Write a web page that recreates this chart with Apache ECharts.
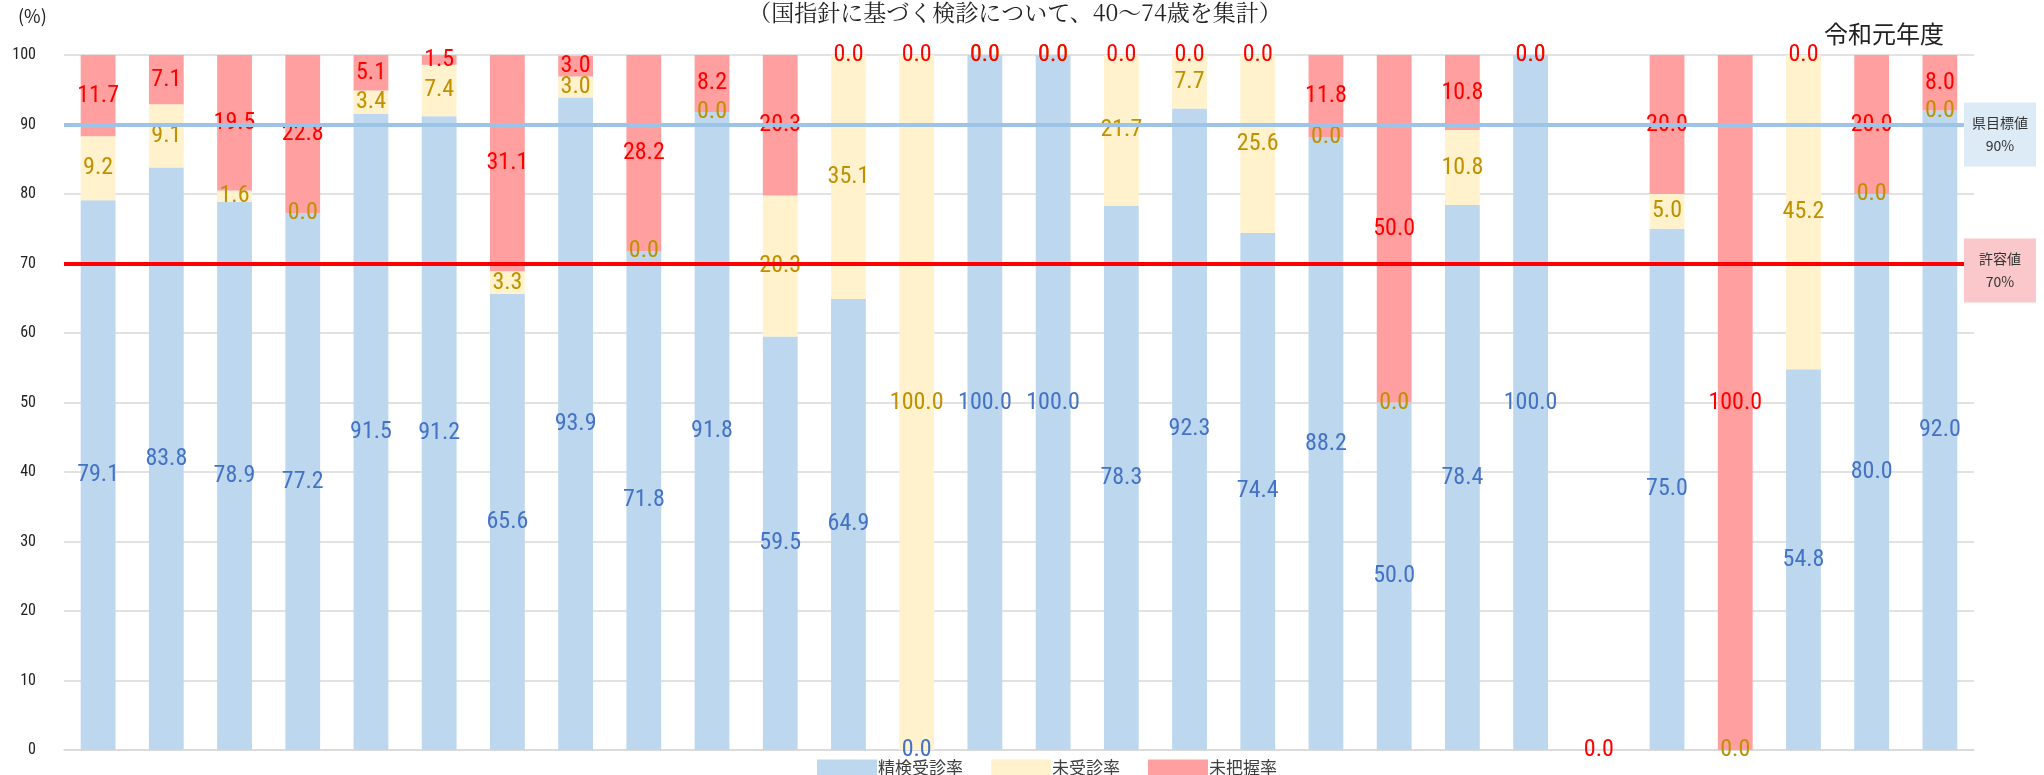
<!DOCTYPE html>
<html>
<head>
<meta charset="utf-8">
<script src="https://cdn.jsdelivr.net/npm/echarts@6/dist/echarts.min.js"></script>
<style>
  html, body { margin: 0; padding: 0; background: #fff; }
  #chart { width: 2044px; height: 775px; }
</style>
</head>
<body>
<div id="chart"></div>
<script>
const categories = ['1', '2', '3', '4', '5', '6', '7', '8', '9', '10', '11', '12', '13', '14',
  '15', '16', '17', '18', '19', '20', '21', '22', '23', '24', '25', '26', '27', '28'];

// 精検受診率
const examined = [79.1, 83.8, 78.9, 77.2, 91.5, 91.2, 65.6, 93.9, 71.8, 91.8, 59.5, 64.9, 0.0, 100.0,
  100.0, 78.3, 92.3, 74.4, 88.2, 50.0, 78.4, 100.0, '-', 75.0, '-', 54.8, 80.0, 92.0];
// 未受診率
const notExamined = [9.2, 9.1, 1.6, 0.0, 3.4, 7.4, 3.3, 3.0, 0.0, 0.0, 20.3, 35.1, 100.0, 0.0,
  0.0, 21.7, 7.7, 25.6, 0.0, 0.0, 10.8, 0.0, '-', 5.0, 0.0, 45.2, 0.0, 0.0];
// 未把握率
const unknown = [11.7, 7.1, 19.5, 22.8, 5.1, 1.5, 31.1, 3.0, 28.2, 8.2, 20.3, 0.0, 0.0, 0.0,
  0.0, 0.0, 0.0, 0.0, 11.8, 50.0, 10.8, 0.0, 0.0, 20.0, 100.0, 0.0, 20.0, 8.0];

const targetLine = 90;
const allowLine = 70;
const yTicks = { min: 0, max: 100, interval: 10 };

const numFont = "'Liberation Sans Narrow', 'Roboto Condensed', 'Noto Sans', sans-serif";
const jpFont = "'Noto Sans CJK JP', sans-serif";

const fmt = (p) => (typeof p.value === 'number' ? p.value.toFixed(1) : '');

const barLabel = (color) => ({
  show: true,
  position: 'inside',
  color,
  fontFamily: numFont,
  fontSize: 24,
  formatter: fmt,
});

// boxed label at the right end of a reference line
const refLabel = (text, bg, dy) => ({
  show: true,
  position: 'end',
  distance: 26,
  offset: [0, dy],
  formatter: text,
  backgroundColor: bg,
  color: '#333',
  fontFamily: jpFont,
  fontSize: 14,
  lineHeight: 23,
  width: 56,
  padding: [9, 8, 9, 8],
  align: 'center',
});

const chart = echarts.init(document.getElementById('chart'));

const option = {
  animation: false,
  title: [
    {
      text: '（国指針に基づく検診について、40～74歳を集計）',
      left: 1010,
      textAlign: 'center',
      top: -4,
      textStyle: { fontFamily: "'Noto Serif CJK JP', " + jpFont, fontSize: 23, fontWeight: 'normal', color: '#222' },
    },
    {
      text: '令和元年度',
      right: 95,
      top: 17,
      textStyle: { fontFamily: jpFont, fontSize: 24, fontWeight: 'normal', color: '#222' },
    },
    {
      text: '(%)',
      left: 13,
      top: 2,
      textStyle: { fontFamily: jpFont, fontSize: 18, fontWeight: 'normal', color: '#222' },
    },
  ],
  legend: {
    left: 812,
    top: 754,
    itemWidth: 60,
    itemHeight: 16,
    itemGap: 28,
    icon: 'rect',
    textStyle: { fontFamily: jpFont, fontSize: 17, color: '#404040', padding: [0, 0, 0, -4] },
    data: ['精検受診率', '未受診率', '未把握率'],
  },
  grid: { left: 64, right: 70, top: 55, bottom: 25 },
  xAxis: {
    type: 'category',
    data: categories,
    axisLine: { lineStyle: { color: '#D9D9D9', width: 1.5 } },
    axisTick: { show: false },
    axisLabel: { show: false },
  },
  yAxis: {
    type: 'value',
    min: yTicks.min,
    max: yTicks.max,
    interval: yTicks.interval,
    axisLine: { show: false },
    axisTick: { show: false },
    axisLabel: { fontFamily: numFont, fontSize: 16, color: '#222', margin: 28 },
    splitLine: { lineStyle: { color: '#D9D9D9', width: 1.5 } },
  },
  series: [
    {
      name: '精検受診率',
      type: 'bar',
      stack: 'rate',
      barWidth: '51%',
      data: examined,
      itemStyle: { color: '#BDD7EE' },
      label: barLabel('#4472C4'),
    },
    {
      name: '未受診率',
      type: 'bar',
      stack: 'rate',
      data: notExamined,
      itemStyle: { color: '#FFF2CC' },
      label: barLabel('#BF9000'),
    },
    {
      name: '未把握率',
      type: 'bar',
      stack: 'rate',
      data: unknown,
      itemStyle: { color: '#FF9F9F' },
      label: barLabel('#FF0000'),
      markLine: {
        silent: true,
        symbol: 'none',
        z: 10,
        data: [
          {
            yAxis: targetLine,
            lineStyle: { color: '#9DC3E6', width: 4, type: 'solid' },
            label: refLabel('県目標値\n' + targetLine + '%', '#DDEBF7', 10),
          },
          {
            yAxis: allowLine,
            lineStyle: { color: '#FF0000', width: 4, type: 'solid' },
            label: refLabel('許容値\n' + allowLine + '%', '#FAC8CA', 7),
          },
        ],
      },
    },
  ],
};

chart.setOption(option);
</script>
</body>
</html>
